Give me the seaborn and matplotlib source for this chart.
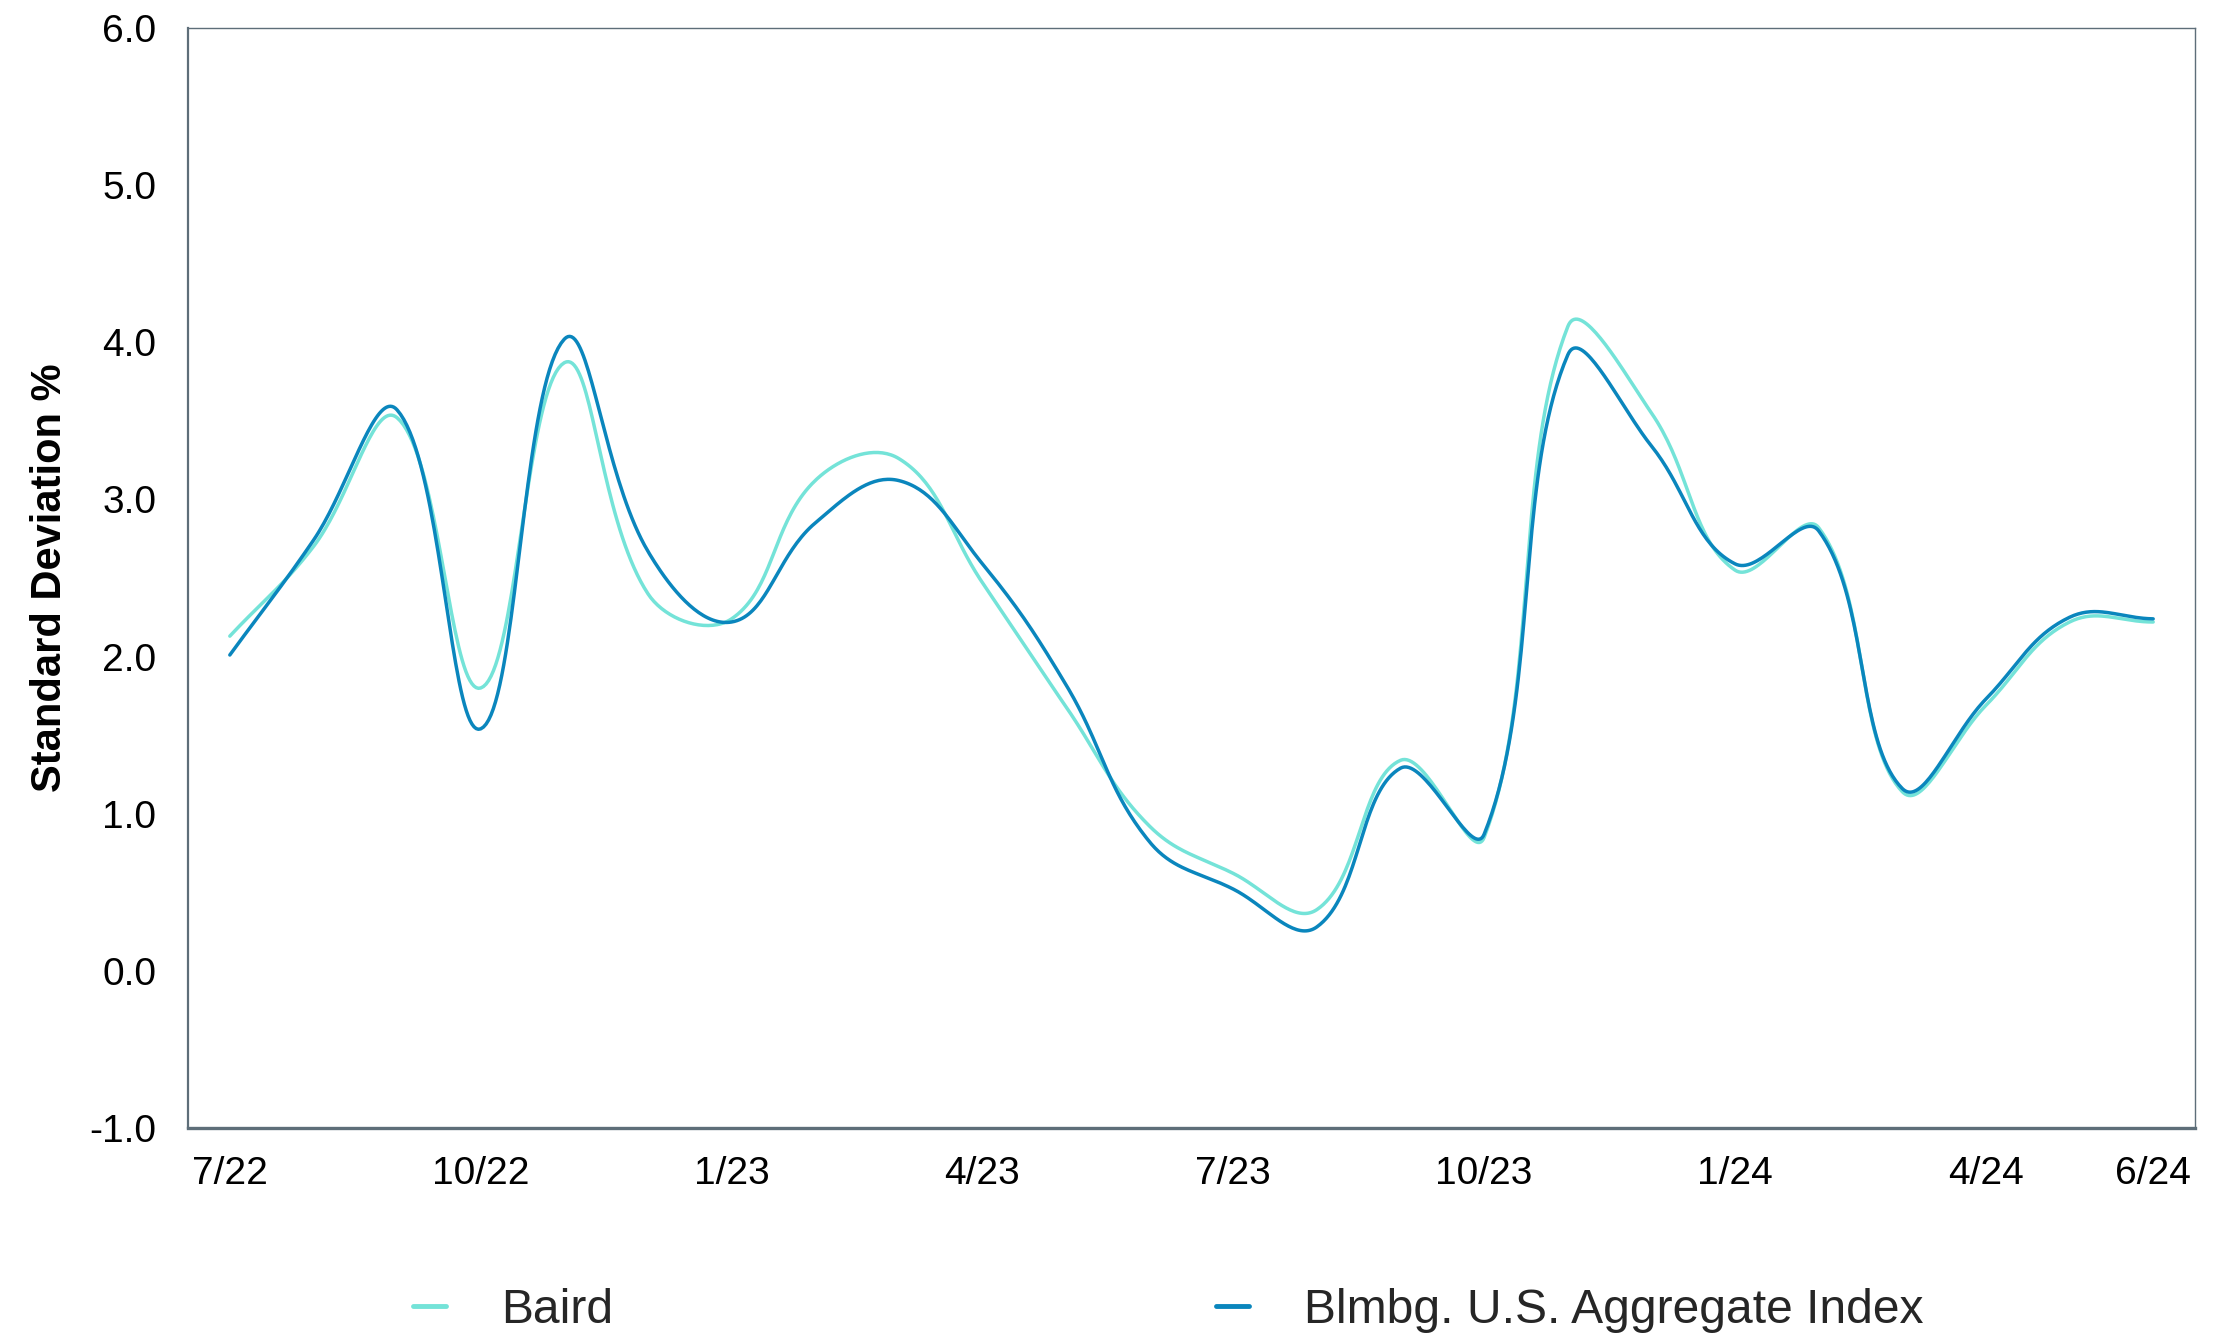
import numpy as np
import pandas as pd
import matplotlib
matplotlib.use("Agg")
import matplotlib.pyplot as plt
import seaborn as sns
from matplotlib.lines import Line2D

# ---------------- data ----------------
months = ["7/22", "8/22", "9/22", "10/22", "11/22", "12/22",
          "1/23", "2/23", "3/23", "4/23", "5/23", "6/23",
          "7/23", "8/23", "9/23", "10/23", "11/23", "12/23",
          "1/24", "2/24", "3/24", "4/24", "5/24", "6/24"]
baird = [2.13, 2.70, 3.52, 1.80, 3.87, 2.40,
         2.24, 3.12, 3.26, 2.47, 1.68, 0.92,
         0.62, 0.39, 1.34, 0.85, 4.10, 3.55,
         2.55, 2.82, 1.14, 1.69, 2.22, 2.22]
index_agg = [2.01, 2.74, 3.57, 1.54, 4.02, 2.67,
             2.22, 2.85, 3.12, 2.59, 1.82, 0.82,
             0.52, 0.28, 1.29, 0.87, 3.92, 3.34,
             2.59, 2.80, 1.16, 1.73, 2.25, 2.24]
series_names = ["Baird", "Blmbg. U.S. Aggregate Index"]
tick_months = ["7/22", "10/22", "1/23", "4/23", "7/23", "10/23", "1/24", "4/24", "6/24"]
yticks = [-1.0, 0.0, 1.0, 2.0, 3.0, 4.0, 5.0, 6.0]

colors = {"Baird": "#74E3D8", "Blmbg. U.S. Aggregate Index": "#0A86BD"}

# ---------------- spline rendering (chart-style tension smoothing) ----------------
PX_X, PX_Y = 83.65, 157.0   # pixel scale used for smoothing distances
TENSION = 0.4

def smooth(xs, ys, n=40):
    X = np.asarray(xs, float) * PX_X
    Y = np.asarray(ys, float) * PX_Y
    m = len(X)
    prev_cp = np.zeros((m, 2)); next_cp = np.zeros((m, 2))
    for i in range(m):
        p = (X[max(i - 1, 0)], Y[max(i - 1, 0)])
        c = (X[i], Y[i])
        nx = (X[min(i + 1, m - 1)], Y[min(i + 1, m - 1)])
        d01 = np.hypot(c[0] - p[0], c[1] - p[1])
        d12 = np.hypot(nx[0] - c[0], nx[1] - c[1])
        tot = d01 + d12
        s01 = d01 / tot if tot else 0
        s12 = d12 / tot if tot else 0
        fa, fb = TENSION * s01, TENSION * s12
        prev_cp[i] = (c[0] - fa * (nx[0] - p[0]), c[1] - fa * (nx[1] - p[1]))
        next_cp[i] = (c[0] + fb * (nx[0] - p[0]), c[1] + fb * (nx[1] - p[1]))
    t = np.linspace(0, 1, n)[:, None]
    pts = []
    for i in range(m - 1):
        P0 = np.array([X[i], Y[i]]); P1 = next_cp[i]
        P2 = prev_cp[i + 1]; P3 = np.array([X[i + 1], Y[i + 1]])
        B = ((1 - t) ** 3) * P0 + 3 * ((1 - t) ** 2) * t * P1 + 3 * (1 - t) * t ** 2 * P2 + t ** 3 * P3
        pts.append(B if i == 0 else B[1:])
    pts = np.vstack(pts)
    return pts[:, 0] / PX_X, pts[:, 1] / PX_Y

xpos = np.arange(len(months))
frames = []
for name, vals in zip(series_names, [baird, index_agg]):
    sx, sy = smooth(xpos, vals)
    frames.append(pd.DataFrame({"x": sx, "y": sy, "series": name}))
df = pd.concat(frames, ignore_index=True)

# ---------------- figure ----------------
sns.set_theme(style="white")
plt.rcParams["font.family"] = ["Liberation Sans", "DejaVu Sans"]

fig = plt.figure(figsize=(22.38, 13.40), dpi=100)
ax = fig.add_axes([188 / 2238, 1 - 1128 / 1340, (2195 - 188) / 2238, (1128 - 28) / 1340])

sns.lineplot(data=df, x="x", y="y", hue="series", palette=colors, sort=False,
             estimator=None, units="series", linewidth=2.5, ax=ax, legend=False)

ax.set_xlim(-0.5, 23.5)
ax.set_ylim(-1.0, 6.0)
ax.set_yticks(yticks)
ax.set_yticklabels([f"{v:.1f}" for v in yticks])
ax.set_xticks([months.index(m) for m in tick_months])
ax.set_xticklabels(tick_months)
ax.set_xlabel("")
ax.set_ylabel("Standard Deviation %", fontsize=30, fontweight="bold", color="black")
ax.yaxis.set_label_coords(-0.059, 0.5)

ax.tick_params(axis="both", which="both", direction="out", length=10, width=1.2,
               color="#d9d9d9", labelsize=28, labelcolor="black")
ax.tick_params(axis="y", pad=13)
ax.tick_params(axis="x", pad=10)

spine_color = "#5E6E79"
for side, w in {"left": 1.6, "bottom": 2.4, "top": 1.0, "right": 1.0}.items():
    ax.spines[side].set_visible(True)
    ax.spines[side].set_color(spine_color)
    ax.spines[side].set_linewidth(w)
ax.grid(False)

handles = [Line2D([0], [0], color=colors[n], linewidth=3.5) for n in series_names]
fig.legend(handles, series_names, loc="lower left", bbox_to_anchor=(394 / 2238, -0.009),
           ncol=2, frameon=False, fontsize=34.6, handlelength=0.68, handletextpad=1.15,
           columnspacing=12.54, borderaxespad=0)

fig.savefig("out.png", dpi=100, facecolor="white")
